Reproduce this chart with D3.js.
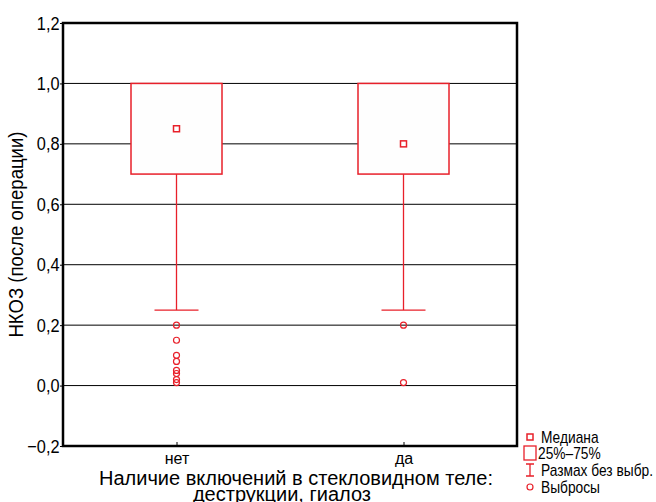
<!DOCTYPE html>
<html>
<head>
<meta charset="utf-8">
<script src="https://cdn.jsdelivr.net/npm/d3@7"></script>
<style>
  html, body { margin: 0; padding: 0; background: #fff; }
  svg { display: block; }
  text { font-family: "Liberation Sans", Arial, sans-serif; }
</style>
</head>
<body>
<svg id="chart" width="656" height="502"></svg>
<script>
// Groups and box statistics
const categories = ["нет", "да"];
const medians = [0.85, 0.80];
const q1 = [0.70, 0.70];
const q3 = [1.00, 1.00];
const whiskerLow = [0.25, 0.25];
const whiskerHigh = [1.00, 1.00];
const outliers = [
  [0.20, 0.15, 0.10, 0.08, 0.05, 0.04, 0.02, 0.01],
  [0.20, 0.01]
];
const yTicks = [-0.2, 0, 0.2, 0.4, 0.6, 0.8, 1.0, 1.2];
const legendItems = ["Медиана", "25%–75%", "Размах без выбр.", "Выбросы"];

const red = "#e8202a";
const narrow = 0.86; // horizontal squeeze for the condensed labels
const svg = d3.select("#chart");
const m = { left: 63, right: 517, top: 23, bottom: 446 };

const x = d3.scalePoint().domain(categories).range([m.left, m.right]).padding(0.5);
const y = d3.scaleLinear().domain([-0.2, 1.2]).range([m.bottom, m.top]);
const fmt = v => d3.format(".1f")(v).replace(".", ",").replace("-", "\u2013");

// Horizontal gridlines
svg.append("g").selectAll("line").data(yTicks).join("line")
  .attr("x1", m.left).attr("x2", m.right)
  .attr("y1", d => y(d)).attr("y2", d => y(d))
  .attr("stroke", "#000").attr("stroke-width", 1);

// Y axis labels
const yAxis = d3.axisLeft(y).tickValues(yTicks).tickFormat(fmt).tickSize(3).tickPadding(1);
const ya = svg.append("g").attr("transform", `translate(${m.left},0)`).call(yAxis);
ya.select(".domain").remove();
ya.selectAll(".tick line").attr("stroke", "#000");
ya.selectAll("text")
  .attr("font-size", 19).attr("fill", "#000").attr("font-family", null)
  .attr("transform", `scale(${narrow},1)`);

// X axis: inward ticks and category labels
const xAxis = d3.axisBottom(x).tickSize(-4).tickPadding(7);
const xa = svg.append("g").attr("transform", `translate(0,${m.bottom})`).call(xAxis);
xa.select(".domain").remove();
xa.selectAll(".tick line").attr("stroke", "#000");
xa.selectAll("text").attr("font-size", 16).attr("fill", "#000").attr("font-family", null);

// Boxes
const boxW = 91, capW = 44;
const groups = svg.append("g").selectAll("g").data(categories).join("g");
groups.append("line")
  .attr("x1", d => x(d)).attr("x2", d => x(d))
  .attr("y1", (d, i) => y(q1[i])).attr("y2", (d, i) => y(whiskerLow[i]))
  .attr("stroke", red).attr("stroke-width", 1.3);
groups.append("line")
  .attr("x1", d => x(d) - capW / 2).attr("x2", d => x(d) + capW / 2)
  .attr("y1", (d, i) => y(whiskerLow[i])).attr("y2", (d, i) => y(whiskerLow[i]))
  .attr("stroke", red).attr("stroke-width", 1.3);
groups.append("line")
  .attr("x1", d => x(d)).attr("x2", d => x(d))
  .attr("y1", (d, i) => y(q3[i])).attr("y2", (d, i) => y(whiskerHigh[i]))
  .attr("stroke", red).attr("stroke-width", 1.3);
groups.append("rect")
  .attr("x", d => x(d) - boxW / 2).attr("width", boxW)
  .attr("y", (d, i) => y(q3[i])).attr("height", (d, i) => y(q1[i]) - y(q3[i]))
  .attr("fill", "#fefefe").attr("stroke", red).attr("stroke-width", 1.5);
groups.append("rect")
  .attr("x", d => x(d) - 3).attr("width", 6)
  .attr("y", (d, i) => y(medians[i]) - 3).attr("height", 6)
  .attr("fill", "#fff").attr("stroke", red).attr("stroke-width", 1.5);
groups.each(function (d, i) {
  d3.select(this).selectAll("circle").data(outliers[i]).join("circle")
    .attr("cx", x(d)).attr("cy", v => y(v)).attr("r", 3)
    .attr("fill", "none").attr("stroke", red).attr("stroke-width", 1.2);
});

// Frame
svg.append("rect")
  .attr("x", m.left).attr("y", m.top)
  .attr("width", m.right - m.left).attr("height", m.bottom - m.top)
  .attr("fill", "none").attr("stroke", "#000").attr("stroke-width", 2.5);

// Axis titles
svg.append("text")
  .attr("transform", `translate(23,${(m.top + m.bottom) / 2}) rotate(-90) scale(0.93,1)`)
  .attr("text-anchor", "middle").attr("font-size", 20).attr("fill", "#000")
  .text("НКОЗ (после операции)");
const xt = svg.append("text")
  .attr("text-anchor", "middle").attr("font-size", 20).attr("fill", "#000");
xt.append("tspan").attr("x", 296).attr("y", 485).text("Наличие включений в стекловидном теле:");
xt.append("tspan").attr("x", 282).attr("y", 501).text("деструкции, гиалоз");

// Legend
const lg = svg.append("g");
const lx = 530, ly = [437, 453, 470, 487];
lg.append("rect").attr("x", lx - 3).attr("y", ly[0] - 3).attr("width", 6).attr("height", 6)
  .attr("fill", "#fff").attr("stroke", red).attr("stroke-width", 1.5);
lg.append("rect").attr("x", lx - 6).attr("y", ly[1] - 7).attr("width", 12).attr("height", 14)
  .attr("fill", "#fff").attr("stroke", red).attr("stroke-width", 1.3);
lg.append("path")
  .attr("d", `M${lx - 4},${ly[2] - 6}H${lx + 4}M${lx},${ly[2] - 6}V${ly[2] + 6}M${lx - 4},${ly[2] + 6}H${lx + 4}`)
  .attr("stroke", red).attr("stroke-width", 1.3).attr("fill", "none");
lg.append("circle").attr("cx", lx).attr("cy", ly[3]).attr("r", 3)
  .attr("fill", "none").attr("stroke", red).attr("stroke-width", 1.2);
lg.selectAll("text").data(legendItems).join("text")
  .attr("transform", (d, i) => `translate(${i === 1 ? lx + 8 : lx + 11},${ly[i] + 6}) scale(${narrow},1)`)
  .attr("font-size", 16).attr("fill", "#000").text(d => d);
</script>
</body>
</html>
